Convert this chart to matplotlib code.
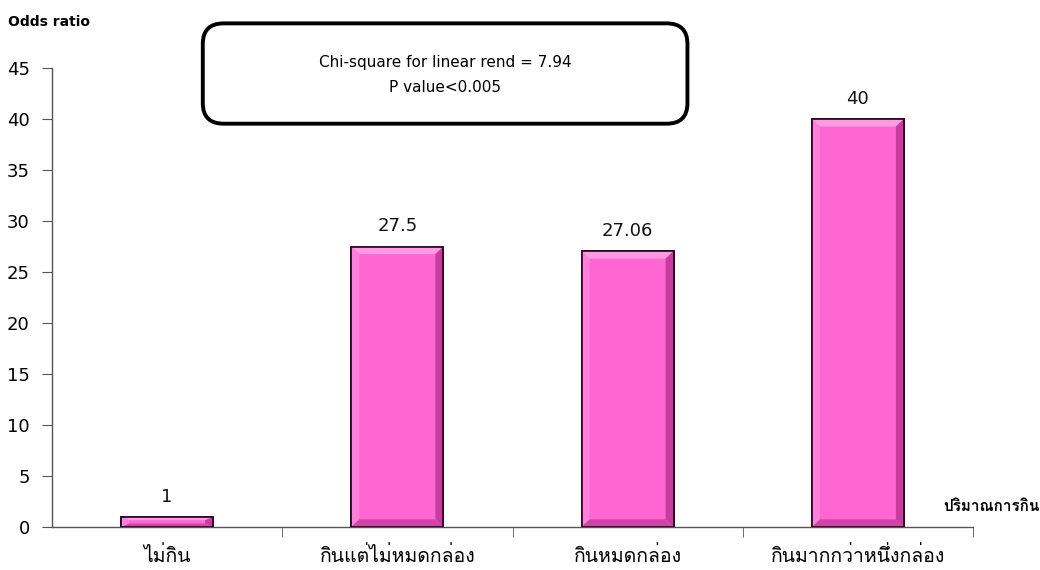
import matplotlib
matplotlib.use("Agg")
import matplotlib.pyplot as plt
from matplotlib import font_manager
from matplotlib.ft2font import FT2Font
from matplotlib.patches import FancyBboxPatch, Polygon

categories = ["ไม่กิน", "กินแต่ไม่หมดกล่อง", "กินหมดกล่อง", "กินมากกว่าหนึ่งกล่อง"]
odds_ratio = [1, 27.5, 27.06, 40]
value_labels = ["1", "27.5", "27.06", "40"]
y_ticks = [0, 5, 10, 15, 20, 25, 30, 35, 40, 45]


def find_thai_family():
    # look for any installed font that carries the Thai block
    for path in sorted(font_manager.findSystemFonts()):
        try:
            if 0x0E01 in FT2Font(path).get_charmap():
                font_manager.fontManager.addfont(path)
                return font_manager.FontProperties(fname=path).get_name()
        except Exception:
            continue
    return None


thai = find_thai_family()
thai_fam = [thai, "DejaVu Sans"] if thai else ["DejaVu Sans"]
latin_fam = ["DejaVu Sans", thai] if thai else ["DejaVu Sans"]
plt.rcParams["font.family"] = latin_fam

fig = plt.figure(figsize=(10.4, 5.7), dpi=100)
ax = fig.add_axes([0.05, 0.0754, 0.8856, 0.8053])

x = list(range(len(categories)))
bar_w = 0.4
bars = ax.bar(x, odds_ratio, width=bar_w, color="#ff66d2",
              edgecolor="#2a0020", linewidth=1.2, zorder=2)

# bevel faces on every bar
bx, by = 0.035, 0.75
for rect in bars:
    x0, y0 = rect.get_x(), rect.get_y()
    w, h = rect.get_width(), rect.get_height()
    dy = min(by, h / 3)
    x1, y1 = x0 + w, y0 + h
    faces = [
        ([(x0, y1), (x1, y1), (x1 - bx, y1 - dy), (x0 + bx, y1 - dy)], "#ff9be3"),
        ([(x0, y0), (x0, y1), (x0 + bx, y1 - dy), (x0 + bx, y0 + dy)], "#ff80da"),
        ([(x1, y0), (x1, y1), (x1 - bx, y1 - dy), (x1 - bx, y0 + dy)], "#c73d9f"),
        ([(x0, y0), (x1, y0), (x1 - bx, y0 + dy), (x0 + bx, y0 + dy)], "#cf45a8"),
    ]
    for pts, col in faces:
        ax.add_patch(Polygon(pts, closed=True, facecolor=col, edgecolor="none", zorder=3))
    ax.add_patch(plt.Rectangle((x0, y0), w, h, fill=False, edgecolor="#2a0020",
                               linewidth=1.2, zorder=4))

for xi, v, lab in zip(x, odds_ratio, value_labels):
    ax.annotate(lab, xy=(xi, v), xytext=(0, 8), textcoords="offset points",
                ha="center", va="bottom", fontsize=13, color="#111111")

ax.set_xlim(-0.5, len(categories) - 0.5)
ax.set_ylim(0, 45)
ax.set_yticks(y_ticks)
ax.set_yticklabels([str(t) for t in y_ticks], fontsize=13)
ax.tick_params(axis="y", length=7, color="#555555", pad=9)

ax.set_xticks(x)
ax.set_xticklabels(categories, fontsize=14, family=thai_fam)
ax.tick_params(axis="x", which="major", length=0, pad=14)
ax.set_xticks([i + 0.5 for i in x], minor=True)
ax.tick_params(axis="x", which="minor", length=7, color="#555555", direction="out")

for s in ["top", "right"]:
    ax.spines[s].set_visible(False)
for s in ["left", "bottom"]:
    ax.spines[s].set_color("#555555")
    ax.spines[s].set_linewidth(1.0)

fig.text(0.008, 0.962, "Odds ratio", fontsize=10, fontweight="bold", va="center", ha="left")
fig.text(0.907, 0.11, "ปริมาณการกิน", fontsize=11, fontweight="bold", va="center",
         ha="left", family=thai_fam)

# annotation box with the trend test
box = FancyBboxPatch((0.195, 0.783), 0.466, 0.176, transform=fig.transFigure,
                     boxstyle="round,pad=0,rounding_size=0.02", facecolor="white",
                     edgecolor="black", linewidth=2.8, mutation_aspect=1.8)
fig.patches.append(box)
fig.text(0.428, 0.891, "Chi-square for linear rend = 7.94", fontsize=11,
         ha="center", va="center")
fig.text(0.428, 0.846, "P value<0.005", fontsize=11, ha="center", va="center")

fig.savefig("out.png", dpi=100, facecolor="white")
